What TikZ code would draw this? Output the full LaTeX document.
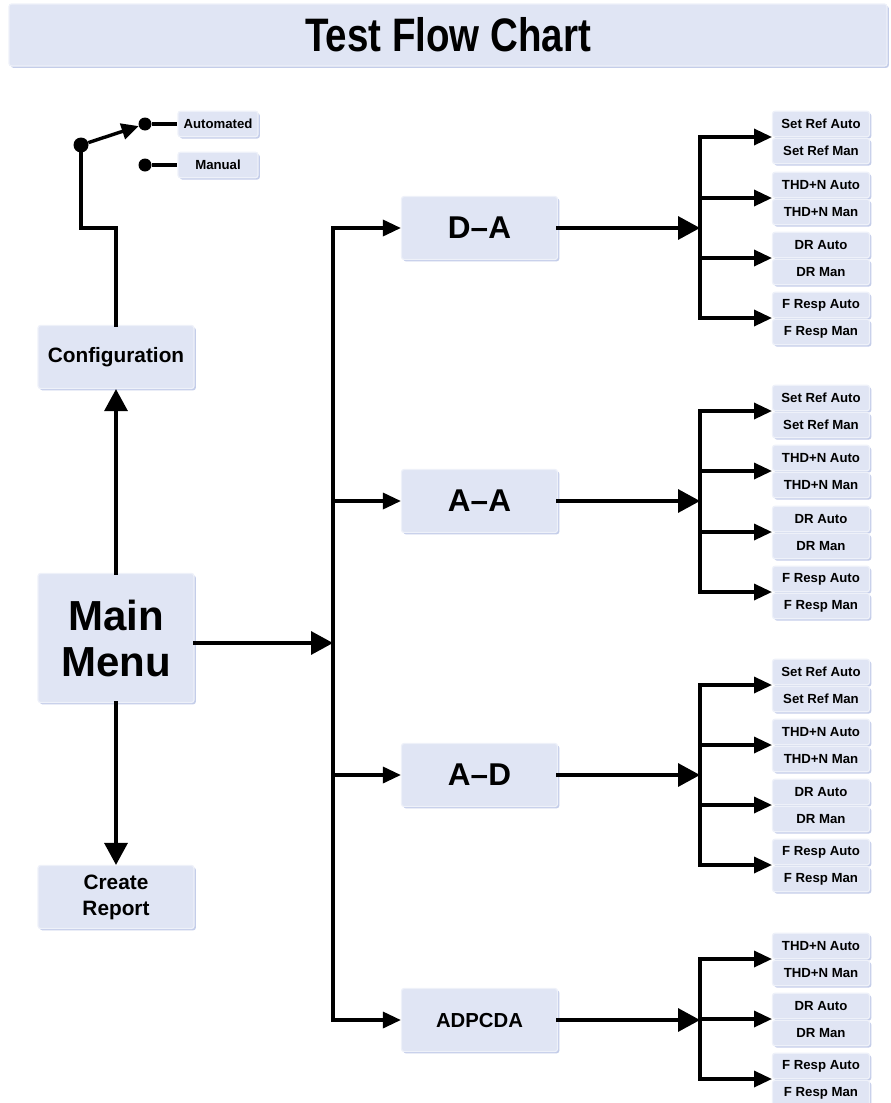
\documentclass[tikz,border=0pt]{standalone}
\usepackage{graphicx}
\usepackage{fontspec}
\setmainfont{Liberation Sans}
\usetikzlibrary{arrows.meta,shadows}

\definecolor{boxfill}{HTML}{E0E5F4}
\definecolor{boxshade}{HTML}{C4CDE9}
\definecolor{boxedge}{HTML}{EEF1F9}

\tikzset{
  box/.style={rectangle, rounded corners=2.5pt, fill=boxfill, draw=boxedge,
    line width=1.2pt, inner sep=0pt, align=center, font=\bfseries,
    drop shadow={shadow xshift=1.8pt, shadow yshift=-1.8pt, fill=boxshade, opacity=1}},
  bigbox/.style={box, minimum width=156pt, minimum height=63pt},
  leaf/.style={box, minimum width=97pt, minimum height=25.5pt,
    font=\bfseries\fontsize{13.2}{14}\selectfont},
  conn/.style={draw=black, line width=3.4pt, line cap=rect},
  big/.style={-{Triangle[length=22pt,width=23pt]}},
  small/.style={-{Triangle[length=18pt,width=16pt]}},
  dot/.style={circle, fill=black, inner sep=0pt, minimum size=13pt},
}

% a pair of Auto / Man leaves fed by one arrow from a sub-trunk
\newcommand\leafpair[4]{%
  \node[leaf] (#1a) at (821,#2-13) {#3 Auto};
  \node[leaf] (#1m) at (821,#2+14) {#3 Man};
  \coordinate (#1t) at (772,#2);
  \draw[conn,small] (#4 |- #1t) -- (#1t);
}

\begin{document}
\begin{tikzpicture}[x=1pt,y=-1pt]
\useasboundingbox (0,0) rectangle (891,1103);

% title bar
\node[box, minimum width=878pt, minimum height=62pt,
  font=\bfseries\fontsize{38.5}{40}\selectfont] (title) at (448,35)
  {\scalebox{1}[1.22]{Test Flow Chart}};

% left column
\node[bigbox, font=\bfseries\fontsize{20.8}{24}\selectfont] (cfg) at (116,357) {Configuration};
\node[bigbox, minimum height=129pt, font=\bfseries\fontsize{42}{46}\selectfont] (mm) at (116,638) {Main\\Menu};
\node[bigbox, font=\bfseries\fontsize{20.8}{26}\selectfont] (rep) at (116,897) {Create\\Report};

% mode switch
\node[leaf, minimum width=80pt] (auto) at (218,124) {Automated};
\node[leaf, minimum width=80pt] (man) at (218,165) {Manual};
\node[dot, minimum size=15pt] (piv) at (81,145) {};
\node[dot] (dA) at (145,124) {};
\node[dot] (dM) at (145,165) {};
\coordinate (bend) at (116,228);

\draw[conn] (piv.center) |- (bend) -- (cfg.north);
\draw[conn,line cap=butt,-{Triangle[length=17pt,width=16pt]}] (piv) -- (dA);
\draw[conn,line cap=butt] (dA) -- (auto.west);
\draw[conn,line cap=butt] (dM) -- (man.west);

\draw[conn,big] (mm.north) -- (cfg.south);
\draw[conn,big] (mm.south) -- (rep.north);

% test boxes
\node[bigbox, font=\bfseries\fontsize{31.5}{34}\selectfont] (tda) at (479.5,228) {D–A};
\node[bigbox, font=\bfseries\fontsize{31.5}{34}\selectfont] (taa) at (479.5,501) {A–A};
\node[bigbox, font=\bfseries\fontsize{31.5}{34}\selectfont] (tad) at (479.5,775) {A–D};
\node[bigbox, font=\bfseries\fontsize{20.3}{24}\selectfont] (tadp) at (479.5,1020) {ADPCDA};

% main trunk
\coordinate (tj) at (333,643);
\draw[conn,big] (mm.east |- tj) -- (tj);
\draw[conn] (tj |- tda) -- (tj |- tadp);
\foreach \t in {tda,taa,tad,tadp}
  \draw[conn,small] (tj |- \t.west) -- (\t.west);

% sub-trunks
\coordinate (s1) at (700,228);
\coordinate (s2) at (700,501);
\coordinate (s3) at (700,775);
\coordinate (s4) at (700,1020);
\draw[conn,big] (tda.east) -- (s1);
\draw[conn,big] (taa.east) -- (s2);
\draw[conn,big] (tad.east) -- (s3);
\draw[conn,big] (tadp.east) -- (s4);

% D–A leaves
\leafpair{g1s}{137}{Set Ref}{s1}
\leafpair{g1t}{198}{THD+N}{s1}
\leafpair{g1d}{258}{DR}{s1}
\leafpair{g1f}{318}{F Resp}{s1}
\draw[conn] (s1 |- g1st) -- (s1 |- g1ft);

% A–A leaves
\leafpair{g2s}{411}{Set Ref}{s2}
\leafpair{g2t}{471}{THD+N}{s2}
\leafpair{g2d}{532}{DR}{s2}
\leafpair{g2f}{592}{F Resp}{s2}
\draw[conn] (s2 |- g2st) -- (s2 |- g2ft);

% A–D leaves
\leafpair{g3s}{685}{Set Ref}{s3}
\leafpair{g3t}{745}{THD+N}{s3}
\leafpair{g3d}{805}{DR}{s3}
\leafpair{g3f}{865}{F Resp}{s3}
\draw[conn] (s3 |- g3st) -- (s3 |- g3ft);

% ADPCDA leaves
\leafpair{g4t}{959}{THD+N}{s4}
\leafpair{g4d}{1019}{DR}{s4}
\leafpair{g4f}{1079}{F Resp}{s4}
\draw[conn] (s4 |- g4tt) -- (s4 |- g4ft);
\end{tikzpicture}
\end{document}
